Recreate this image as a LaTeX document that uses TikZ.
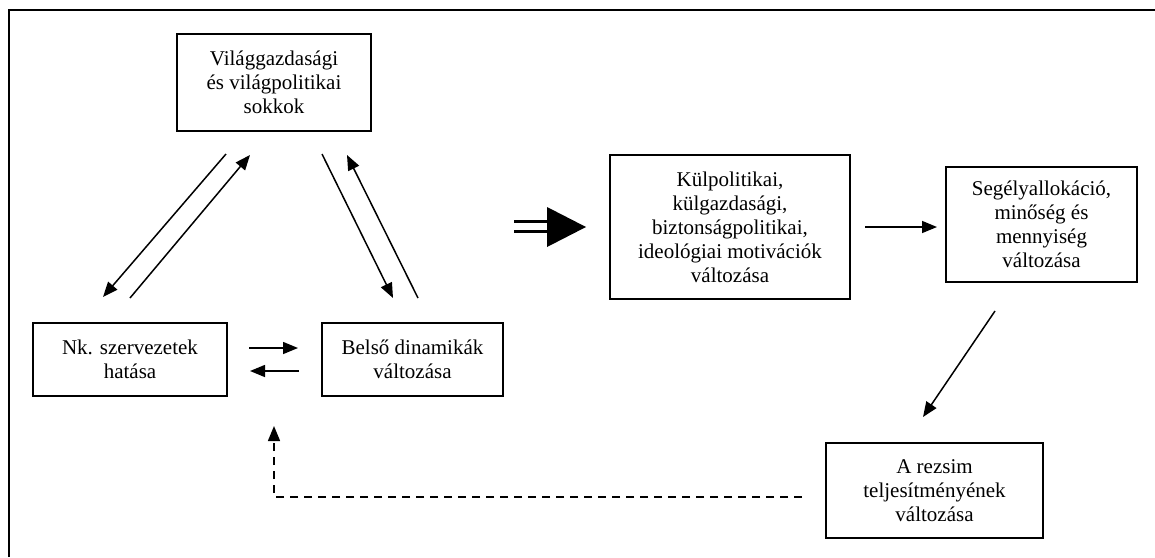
\documentclass[tikz,border=0pt]{standalone}
\usepackage{fontspec}
\setmainfont{Liberation Serif}
\usetikzlibrary{arrows.meta}
\begin{document}
\begin{tikzpicture}[x=1pt,y=-1pt,
  box/.style={draw, line width=1.6pt, inner sep=0pt, align=center,
    font=\fontsize{21}{24}\selectfont},
  arr/.style={line width=1.5pt, -{Triangle[length=15pt,width=12pt]}},
  darr/.style={arr, dash pattern=on 8pt off 6pt}]
\useasboundingbox (0,0) rectangle (1155,557);
\draw[line width=2pt] (9,557) -- (9,9.5) -- (1155,9.5);
% boxes
\node[box, minimum width=194pt, minimum height=97pt] (b1) at (274,82.5)
  {Világgazdasági\\és világpolitikai\\sokkok};
\node[box, minimum width=194pt, minimum height=73pt] (nk) at (130,359.5)
  {Nk. szervezetek\\hatása};
\node[box, minimum width=181pt, minimum height=73pt] (bd) at (412.5,359.5)
  {Belső dinamikák\\változása};
\node[box, minimum width=240pt, minimum height=144pt] (kp) at (730,227)
  {Külpolitikai,\\külgazdasági,\\biztonságpolitikai,\\ideológiai motivációk\\változása};
\node[box, minimum width=191pt, minimum height=115pt] (sg) at (1041.5,224.5)
  {Segélyallokáció,\\minőség és\\mennyiség\\változása};
\node[box, minimum width=217pt, minimum height=95pt] (rz) at (934.5,490.5)
  {A rezsim\\teljesítményének\\változása};
% connector end points
\coordinate (a1s) at (226,154); \coordinate (a1e) at (103,297);
\coordinate (a2s) at (130,298); \coordinate (a2e) at (250,155);
\coordinate (a3s) at (322,154); \coordinate (a3e) at (393,298);
\coordinate (a4s) at (418,298); \coordinate (a4e) at (347,155);
\coordinate (h1s) at (249,348); \coordinate (h1e) at (298,348);
\coordinate (h2s) at (299,371); \coordinate (h2e) at (250,371);
\coordinate (k1s) at (865,227); \coordinate (k1e) at (937,227);
\coordinate (s1s) at (995,311); \coordinate (s1e) at (923,417);
\coordinate (d1s) at (802,497); \coordinate (d1c) at (274,497); \coordinate (d1e) at (274,426);
\draw[arr] (a1s) -- (a1e);
\draw[arr] (a2s) -- (a2e);
\draw[arr] (a3s) -- (a3e);
\draw[arr] (a4s) -- (a4e);
\draw[arr] (h1s) -- (h1e);
\draw[arr] (h2s) -- (h2e);
\draw[arr] (k1s) -- (k1e);
\draw[arr] (s1s) -- (s1e);
\draw[darr] (d1s) -- (d1c) -- (d1e);
% big double arrow
\fill (514,219.5) rectangle (548,222.5);
\fill (514,229.5) rectangle (548,232.5);
\fill (547,207) -- (586,227) -- (547,247) -- cycle;
\end{tikzpicture}
\end{document}
